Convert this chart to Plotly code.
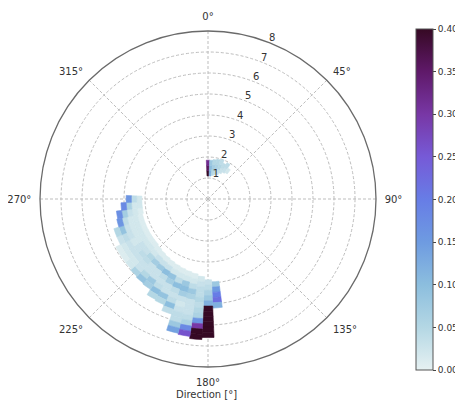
import plotly.graph_objects as go

# ---- data: direction bins (deg, centers), radial start of each column, values per 0.25 radial bin
radial_bin = 0.25
dir_width = 5

directions = [0, 5, 10, 15, 20, 25, 30, 35,
              175, 180, 185, 190, 195, 200, 205, 210, 215, 220, 225,
              230, 235, 240, 245, 250, 255, 260, 265, 270]
r_starts = [1.10, 1.10, 1.15, 1.20, 1.25, 1.35, 1.45, 1.50,
            3.95, 3.85, 3.70, 3.60, 3.55, 3.50, 3.45, 3.40, 3.35, 3.30, 3.25,
            3.20, 3.20, 3.20, 3.20, 3.20, 3.20, 3.15, 3.15, 3.15]
cell_values = [
    [0.40, 0.36, 0.32],
    [0.12, 0.10, 0.08],
    [0.05, 0.07, 0.05],
    [0.04, 0.06, 0.05],
    [0.03, 0.05, 0.04],
    [0.03, 0.04],
    [0.03, 0.04],
    [0.02],
    [0.08, 0.15, 0.20, 0.22, 0.12],
    [0.03, 0.04, 0.06, 0.08, 0.12, 0.40, 0.40, 0.40, 0.40, 0.40, 0.40],
    [0.02, 0.03, 0.04, 0.04, 0.05, 0.04, 0.05, 0.06, 0.16, 0.30, 0.40, 0.40],
    [0.01, 0.02, 0.04, 0.08, 0.06, 0.03, 0.03, 0.03, 0.04, 0.06, 0.18, 0.26],
    [0.01, 0.02, 0.08, 0.10, 0.07, 0.03, 0.02, 0.03, 0.04, 0.04, 0.08, 0.14],
    [0.01, 0.02, 0.04, 0.10, 0.04, 0.03, 0.04, 0.10, 0.04],
    [0.01, 0.02, 0.09, 0.07, 0.03, 0.03, 0.09, 0.05],
    [0.01, 0.03, 0.10, 0.04, 0.03, 0.04, 0.10, 0.05],
    [0.01, 0.03, 0.08, 0.03, 0.03, 0.08, 0.07],
    [0.01, 0.03, 0.07, 0.03, 0.03, 0.05, 0.09],
    [0.01, 0.02, 0.05, 0.04, 0.03, 0.03, 0.06],
    [0.01, 0.02, 0.03, 0.04, 0.03, 0.02, 0.02],
    [0.01, 0.02, 0.03, 0.03, 0.03, 0.02, 0.01],
    [0.01, 0.02, 0.02, 0.02, 0.03, 0.02, 0.01],
    [0.01, 0.02, 0.02, 0.03, 0.04, 0.03],
    [0.01, 0.02, 0.02, 0.03, 0.09, 0.05],
    [0.01, 0.02, 0.02, 0.04, 0.16],
    [0.01, 0.02, 0.03, 0.07, 0.17],
    [0.02, 0.02, 0.06, 0.18],
    [0.02, 0.04, 0.16],
]

radial_ticks = [1, 2, 3, 4, 5, 6, 7, 8]
radial_label_angle = 22.5
angle_ticks = [0, 45, 90, 135, 180, 225, 270, 315]
cbar_ticks = [0.00, 0.05, 0.10, 0.15, 0.20, 0.25, 0.30, 0.35, 0.40]

dense = [
    [0.0, "rgb(230,241,242)"],
    [0.125, "rgb(180,215,228)"],
    [0.25, "rgb(140,190,222)"],
    [0.375, "rgb(110,155,225)"],
    [0.5, "rgb(103,125,230)"],
    [0.625, "rgb(118,90,215)"],
    [0.75, "rgb(120,55,165)"],
    [0.875, "rgb(95,25,105)"],
    [1.0, "rgb(54,9,36)"],
]

thetas, bases, lengths, colors = [], [], [], []
for d, r0, vals in zip(directions, r_starts, cell_values):
    for i, v in enumerate(vals):
        thetas.append(d)
        bases.append(r0 + i * radial_bin)
        lengths.append(radial_bin)
        colors.append(v)

# page has an 8px body margin: figure is placed at (8, 8) in the window
OFF = 8
W, H = 463 - OFF, 402 - OFF


def px(x):
    return (x - OFF) / W


def py(y):
    return 1 - (y - OFF) / H


fig = go.Figure()
fig.add_trace(go.Barpolar(
    theta=thetas, r=lengths, base=bases, width=[dir_width] * len(thetas),
    marker=dict(
        color=colors, colorscale=dense, cmin=0, cmax=0.4,
        line=dict(width=0.6, color=colors, colorscale=dense, cmin=0, cmax=0.4),
        showscale=True,
        colorbar=dict(
            x=px(416), xanchor="left", xpad=0, ypad=0,
            y=py(199.5), yanchor="middle",
            len=341 / H, lenmode="fraction", thickness=17,
            outlinewidth=1, outlinecolor="#555",
            tickvals=cbar_ticks, tickformat=".2f",
            ticks="outside", ticklen=3, tickcolor="#444",
            tickfont=dict(size=9, color="#333", family="DejaVu Sans"),
        ),
    ),
    showlegend=False,
))

# radial tick labels along the 22.5° line
fig.add_trace(go.Scatterpolar(
    r=radial_ticks, theta=[radial_label_angle] * len(radial_ticks),
    mode="text", text=[str(t) for t in radial_ticks], textposition="top center",
    textfont=dict(size=10, color="#333", family="DejaVu Sans"),
    cliponaxis=False, showlegend=False, hoverinfo="skip",
))

grid_col = "#bdbdbd"
fig.update_layout(
    width=W, height=H,
    margin=dict(l=0, r=0, t=0, b=0),
    paper_bgcolor="white",
    font=dict(family="DejaVu Sans", size=10, color="#333"),
    polar=dict(
        domain=dict(x=[px(40), px(376)], y=[py(369), py(29)]),
        bgcolor="white",
        angularaxis=dict(
            rotation=90, direction="clockwise",
            tickvals=angle_ticks, ticktext=[f"{a}°" for a in angle_ticks],
            showline=True, linecolor="#6a6a6a", linewidth=1.3,
            showgrid=True, gridcolor=grid_col, griddash="3px,2px", gridwidth=0.8,
            ticks="outside", ticklen=6, tickcolor="rgba(0,0,0,0)",
            tickfont=dict(size=10, color="#333"),
        ),
        radialaxis=dict(
            range=[0, 8], tickvals=radial_ticks, angle=67.5,
            showline=False, showticklabels=False, showgrid=True, gridcolor=grid_col,
            griddash="3px,2px", gridwidth=0.8, ticks="",
        ),
    ),
    annotations=[dict(
        text="Direction [°]", x=px(206), y=py(394), xref="paper", yref="paper",
        showarrow=False, font=dict(size=10, color="#333"), xanchor="center", yanchor="middle",
    )],
)

fig.write_html("out.html")
